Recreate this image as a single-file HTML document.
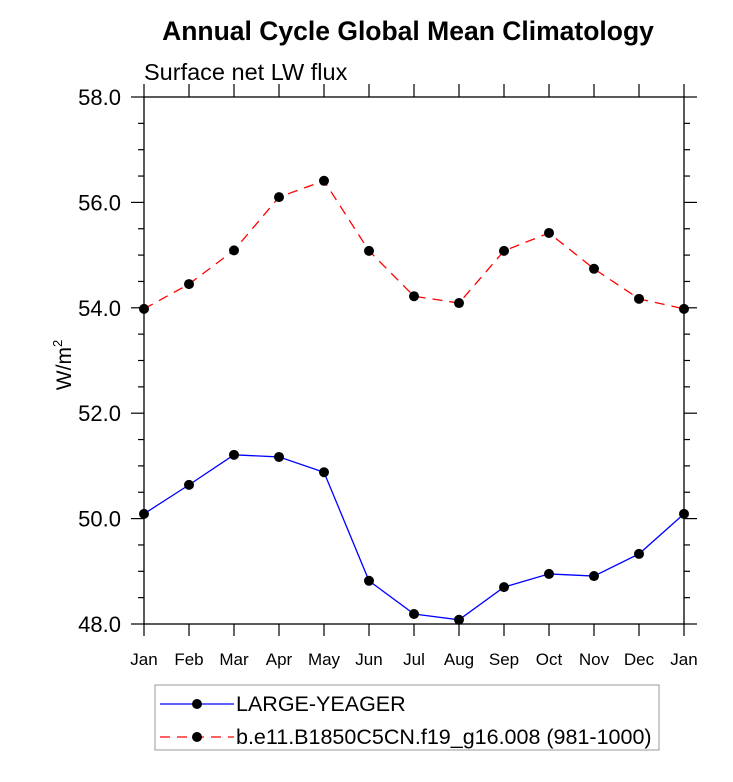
<!DOCTYPE html>
<html><head><meta charset="utf-8"><style>
body{margin:0;background:#fff}
svg text{font-family:"Liberation Sans",Arial,sans-serif}
</style></head><body>
<svg id="chart" width="733" height="777" viewBox="0 0 733 777" xmlns="http://www.w3.org/2000/svg">
<text x="408" y="40" text-anchor="middle" font-size="26.5" font-weight="bold">Annual Cycle Global Mean Climatology</text>
<text x="144" y="80" font-size="23.5">Surface net LW flux</text>
<text transform="translate(71,365) rotate(-90)" text-anchor="middle" font-size="21">W/m<tspan dy="-9" font-size="13">2</tspan></text>
<g id="axes"></g>
<g id="series"></g>
<g>
<rect x="155" y="685" width="504" height="65" fill="none" stroke="#999" stroke-width="1"/>
<g>
<line x1="160" y1="704" x2="234" y2="704" stroke="#0000ff" stroke-width="1.3"/>
<circle cx="197" cy="704" r="5" fill="#000"/>
<text x="236" y="711" font-size="21.5">LARGE-YEAGER</text></g>
<g>
<line x1="160" y1="737" x2="234" y2="737" stroke="#ff0000" stroke-width="1.3" stroke-dasharray="10,7"/>
<circle cx="197" cy="737" r="5" fill="#000"/>
<text x="236" y="744" font-size="21.5">b.e11.B1850C5CN.f19_g16.008 (981-1000)</text></g>
</g>
</svg>
<script>
const months=["Jan","Feb","Mar","Apr","May","Jun","Jul","Aug","Sep","Oct","Nov","Dec","Jan"];
const yTicks=[48,50,52,54,56,58];
const largeYeager=[50.09,50.64,51.21,51.17,50.88,48.82,48.19,48.08,48.70,48.95,48.91,49.33,50.09];
const caseRun=[53.98,54.45,55.09,56.10,56.41,55.08,54.22,54.09,55.08,55.42,54.74,54.17,53.98];
const NS="http://www.w3.org/2000/svg";
const X0=144,X1=684,Y0=624,Y1=97,YMIN=48,YMAX=58;
const xs=i=>X0+(X1-X0)*i/(months.length-1);
const ys=v=>Y0-(Y0-Y1)*(v-YMIN)/(YMAX-YMIN);
function mk(t,a,p){const e=document.createElementNS(NS,t);for(const k in a)e.setAttribute(k,a[k]);(p||document.getElementById('axes')).appendChild(e);return e;}
const frame=mk('rect',{x:X0,y:Y1,width:X1-X0,height:Y0-Y1,fill:'none',stroke:'#000','stroke-width':1.3});


for(let v=YMIN;v<=YMAX+1e-9;v+=0.5){
  const maj=Math.abs(v/2-Math.round(v/2))<1e-9,L=maj?13:6,y=ys(v);
  const t1=mk('line',{x1:X0-L,y1:y,x2:X0,y2:y,stroke:'#000','stroke-width':1.2});
  
  
  const t2=mk('line',{x1:X1,y1:y,x2:X1+L,y2:y,stroke:'#000','stroke-width':1.2});
  
  
}
yTicks.forEach(v=>{const t=mk('text',{x:X0-23,y:ys(v)+8,'text-anchor':'end','font-size':22});t.textContent=v.toFixed(1);
  
  });
months.forEach((m,i)=>{const x=xs(i);
  const a=mk('line',{x1:x,y1:Y0,x2:x,y2:Y0+12,stroke:'#000','stroke-width':1.2});
  
  
  const b=mk('line',{x1:x,y1:Y1-13,x2:x,y2:Y1,stroke:'#000','stroke-width':1.2});
  
  
  const t=mk('text',{x:x,y:665,'text-anchor':'middle','font-size':17});t.textContent=m;
  
  });
const sg=document.getElementById('series');
function series(vals,color,dash,name){
  const g=mk('g',{},sg);
  
  
  const pl=mk('polyline',{points:vals.map((v,i)=>xs(i)+','+ys(v)).join(' '),fill:'none',stroke:color,'stroke-width':1.3},g);
  if(dash)pl.setAttribute('stroke-dasharray',dash);
  
  
  vals.forEach((v,i)=>{const c=mk('circle',{cx:xs(i),cy:ys(v),r:5,fill:'#000'},g);
    
    });
}
series(caseRun,'#ff0000','10,7','case-run-series');
series(largeYeager,'#0000ff',null,'large-yeager-series');
</script>
</body></html>
